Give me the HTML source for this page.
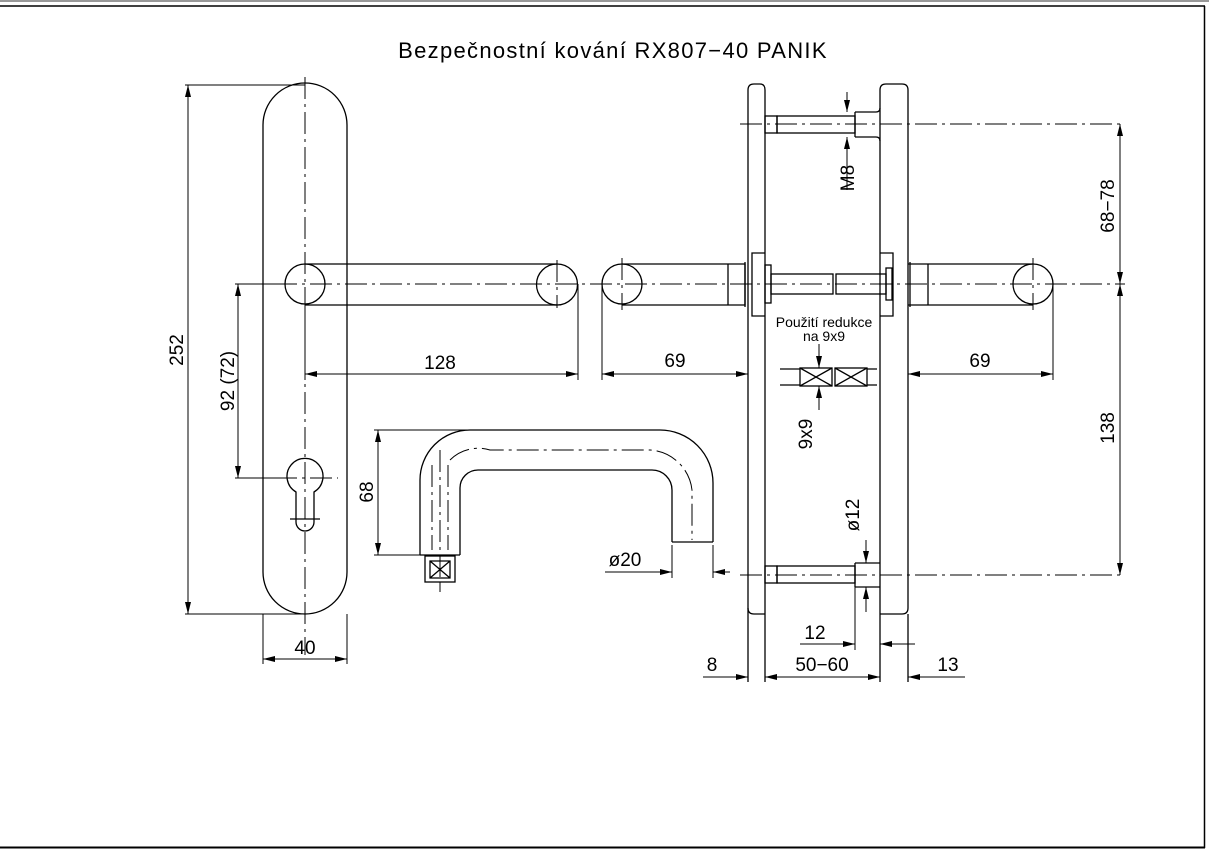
<!DOCTYPE html>
<html><head><meta charset="utf-8"><style>
html,body{margin:0;padding:0;background:#fff;}
svg{display:block;}
text{font-family:"Liberation Sans",sans-serif;fill:#000;}
</style></head><body>
<svg width="1209" height="854" viewBox="0 0 1209 854" xmlns="http://www.w3.org/2000/svg">
<defs>
<marker id="a" viewBox="0 0 12 6" refX="12" refY="3" markerWidth="12" markerHeight="6" orient="auto-start-reverse" markerUnits="userSpaceOnUse"><path d="M0,0L12,3L0,6z" fill="#000"/></marker>
</defs>
<rect x="0" y="0" width="1209" height="854" fill="#fff"/>
<line x1="0" y1="1" x2="1209" y2="1" stroke="#999" stroke-width="2"/>
<line x1="0" y1="6" x2="1205" y2="6" stroke="#000" stroke-width="1.5"/>
<line x1="1204.5" y1="6" x2="1204.5" y2="848" stroke="#000" stroke-width="1.5"/>
<line x1="0" y1="847.5" x2="1205" y2="847.5" stroke="#000" stroke-width="2"/>
<text x="613" y="58" font-size="22" text-anchor="middle" letter-spacing="1.3">Bezpečnostní kování RX807−40 PANIK</text>

<g fill="none" stroke="#000" stroke-width="1.3">
<rect x="263" y="83" width="84" height="531" rx="42" ry="42"/>
<circle cx="305" cy="284" r="20"/>
<path d="M305,264H557A20,20 0 0 1 557,305H305"/>
<path d="M557,264A20,20 0 0 0 557,305"/>
<path d="M296,492A18,18 0 1 1 314,492V522A9,9 0 0 1 296,522Z"/>
<line x1="290" y1="519" x2="320" y2="519"/>
<circle cx="622" cy="284" r="20"/>
<path d="M622,264H745V305H622"/>
<line x1="728" y1="264" x2="728" y2="305"/>
<line x1="745" y1="262" x2="745" y2="307"/>
<circle cx="1033" cy="284" r="20"/>
<path d="M908,264H1033M908,305H1033"/>
<line x1="928" y1="264" x2="928" y2="305"/>
<line x1="910" y1="262" x2="910" y2="307"/>
<path d="M748,614V90Q748,84 754,84H760Q765,84 765,90V614"/>
<path d="M880,614V90Q880,84 886,84H902Q908,84 908,90V608Q908,614 902,614H880"/>
<path d="M748,608Q748,614 754,614H765"/>
<line x1="748" y1="614" x2="748" y2="682"/>
<line x1="765" y1="614" x2="765" y2="682"/>
<line x1="880" y1="614" x2="880" y2="682"/>
<line x1="908" y1="614" x2="908" y2="682"/>
<rect x="765" y="116" width="12" height="17"/>
<rect x="777" y="116" width="78" height="17"/>
<path d="M855,112H876Q880,112 880,108M855,137H876Q880,137 880,141M855,112V137"/>
<rect x="765" y="566" width="12" height="17"/>
<rect x="777" y="566" width="78" height="17"/>
<path d="M855,563H880M855,587H880M855,563V587"/>
<path d="M765,253H752V316H765"/>
<rect x="765" y="265" width="6" height="38"/>
<rect x="771" y="274" width="62" height="20"/>
<rect x="836" y="274" width="50" height="20"/>
<path d="M880,253H893V316H880"/>
<rect x="886" y="268" width="6" height="32"/>
<rect x="800" y="368" width="32" height="18"/><path d="M800,368L832,386M832,368L800,386"/>
<rect x="835" y="368" width="32" height="18"/><path d="M835,368L867,386M867,368L835,386"/>
<path d="M780,369H800M780,385H800M867,369H877M867,385H877"/>
<path d="M420,555V480A50,50 0 0 1 470,430H660A53,53 0 0 1 713,483V542"/>
<path d="M460,555V488A18,18 0 0 1 478,470H652A20,20 0 0 1 672,490V542"/>
<line x1="672" y1="542" x2="713" y2="542"/>
<line x1="420" y1="555" x2="460" y2="555"/>
<rect x="425" y="556" width="30" height="26"/>
<path d="M430,561L450,578M450,561L430,578M430,561H450V578H430Z"/>
</g>

<g fill="none" stroke="#000" stroke-width="1" stroke-dasharray="22,5,3,5">
<line x1="305" y1="77" x2="305" y2="655"/>
<line x1="240" y1="284" x2="1125" y2="284"/>
<line x1="740" y1="124" x2="1125" y2="124"/>
<line x1="740" y1="575" x2="1125" y2="575"/>
<line x1="240" y1="478" x2="338" y2="478"/>
<line x1="557" y1="260" x2="557" y2="308"/>
<line x1="622" y1="258" x2="622" y2="310"/>
<line x1="1033" y1="258" x2="1033" y2="310"/>
<line x1="440" y1="450" x2="440" y2="590"/>
<path d="M450,460A40,40 0 0 1 490,450H650A45,45 0 0 1 692,490V540"/>
<line x1="432" y1="465" x2="432" y2="550"/>
<line x1="448" y1="465" x2="448" y2="550"/>
</g>

<g fill="none" stroke="#000" stroke-width="1">
<line x1="185" y1="85" x2="305" y2="85"/>
<line x1="185" y1="614" x2="305" y2="614"/>
<line x1="188" y1="85" x2="188" y2="614" marker-start="url(#a)" marker-end="url(#a)"/>
<line x1="235" y1="284" x2="290" y2="284"/>
<line x1="235" y1="478" x2="290" y2="478"/>
<line x1="238" y1="284" x2="238" y2="478" marker-start="url(#a)" marker-end="url(#a)"/>
<line x1="305" y1="305" x2="305" y2="380"/>
<line x1="578" y1="284" x2="578" y2="380"/>
<line x1="305" y1="374" x2="578" y2="374" marker-start="url(#a)" marker-end="url(#a)"/>
<line x1="602" y1="284" x2="602" y2="380"/>
<line x1="602" y1="374" x2="748" y2="374" marker-start="url(#a)" marker-end="url(#a)"/>
<line x1="1053" y1="284" x2="1053" y2="380"/>
<line x1="908" y1="374" x2="1053" y2="374" marker-start="url(#a)" marker-end="url(#a)"/>
<line x1="263" y1="614" x2="263" y2="664"/>
<line x1="347" y1="614" x2="347" y2="664"/>
<line x1="263" y1="659" x2="347" y2="659" marker-start="url(#a)" marker-end="url(#a)"/>
<line x1="1120" y1="124" x2="1120" y2="284" marker-start="url(#a)" marker-end="url(#a)"/>
<line x1="1120" y1="284" x2="1120" y2="575" marker-start="url(#a)" marker-end="url(#a)"/>
<line x1="374" y1="430" x2="470" y2="430"/>
<line x1="374" y1="555" x2="420" y2="555"/>
<line x1="378" y1="430" x2="378" y2="555" marker-start="url(#a)" marker-end="url(#a)"/>
<line x1="713" y1="545" x2="713" y2="578"/>
<line x1="672" y1="545" x2="672" y2="578"/>
<line x1="605" y1="572" x2="672" y2="572" marker-end="url(#a)"/>
<line x1="730" y1="572" x2="713" y2="572" marker-end="url(#a)"/>
<line x1="713" y1="572" x2="730" y2="572"/>
<line x1="440" y1="582" x2="440" y2="592"/>
<line x1="847" y1="92" x2="847" y2="112" marker-end="url(#a)"/>
<line x1="847" y1="190" x2="847" y2="137" marker-end="url(#a)"/>
<line x1="866" y1="540" x2="866" y2="563" marker-end="url(#a)"/>
<line x1="866" y1="612" x2="866" y2="587" marker-end="url(#a)"/>
<line x1="855" y1="587" x2="855" y2="650"/>
<line x1="800" y1="644" x2="855" y2="644" marker-end="url(#a)"/>
<line x1="915" y1="644" x2="880" y2="644" marker-end="url(#a)"/>
<line x1="819" y1="344" x2="819" y2="368" marker-end="url(#a)"/>
<line x1="819" y1="410" x2="819" y2="386" marker-end="url(#a)"/>
<line x1="703" y1="677" x2="748" y2="677" marker-end="url(#a)"/>
<line x1="765" y1="677" x2="880" y2="677" marker-start="url(#a)" marker-end="url(#a)"/>
<line x1="940" y1="677" x2="908" y2="677" marker-end="url(#a)"/>
<line x1="908" y1="677" x2="965" y2="677"/>
</g>

<g font-size="19">
<text x="440" y="369" text-anchor="middle">128</text>
<text x="675" y="367" text-anchor="middle">69</text>
<text x="980" y="367" text-anchor="middle">69</text>
<text x="305" y="654" text-anchor="middle">40</text>
<text x="712" y="671" text-anchor="middle">8</text>
<text x="822" y="671" text-anchor="middle">50−60</text>
<text x="948" y="671" text-anchor="middle">13</text>
<text x="815" y="639" text-anchor="middle">12</text>
<text x="625" y="566" text-anchor="middle">ø20</text>
<text transform="translate(183,350) rotate(-90)" text-anchor="middle">252</text>
<text transform="translate(234,381) rotate(-90)" text-anchor="middle">92 (72)</text>
<text transform="translate(373,492) rotate(-90)" text-anchor="middle">68</text>
<text transform="translate(1114,206) rotate(-90)" text-anchor="middle">68−78</text>
<text transform="translate(1114,428) rotate(-90)" text-anchor="middle">138</text>
<text transform="translate(854,178) rotate(-90)" text-anchor="middle">M8</text>
<text transform="translate(859,515) rotate(-90)" text-anchor="middle">ø12</text>
<text transform="translate(812,434) rotate(-90)" text-anchor="middle">9x9</text>
</g>
<text x="824" y="327" font-size="14" text-anchor="middle">Použití redukce</text>
<text x="824" y="341" font-size="14" text-anchor="middle">na 9x9</text>
</svg>
</body></html>
